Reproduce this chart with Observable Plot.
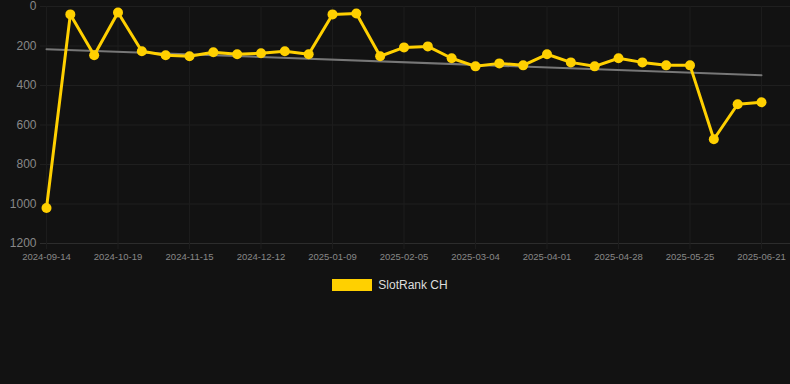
<!DOCTYPE html>
<html>
<head>
<meta charset="utf-8">
<script src="https://cdn.jsdelivr.net/npm/d3@7"></script>
<script src="https://cdn.jsdelivr.net/npm/@observablehq/plot@0.6"></script>
<style>
  html, body { margin: 0; padding: 0; background: #121212; }
  body { width: 790px; height: 384px; overflow: hidden; font-family: "Liberation Sans", Arial, sans-serif; }
  #legend { position: absolute; left: 0; top: 278px; width: 780px; display: flex; justify-content: center; align-items: center; }
  .sw { width: 40px; height: 12px; background: #FFD000; margin-right: 6px; }
  .lt { color: #dddddd; font-size: 12px; }
</style>
</head>
<body>
<div id="chart"></div>
<div id="legend"><div class="sw"></div><div class="lt">SlotRank CH</div></div>
<script>
const dates = [
  "2024-09-14","2024-09-26","2024-10-07","2024-10-19","2024-10-28","2024-11-06",
  "2024-11-15","2024-11-24","2024-12-03","2024-12-12","2024-12-21","2024-12-31",
  "2025-01-09","2025-01-18","2025-01-27","2025-02-05","2025-02-14","2025-02-23",
  "2025-03-04","2025-03-13","2025-03-22","2025-04-01","2025-04-10","2025-04-19",
  "2025-04-28","2025-05-07","2025-05-16","2025-05-25","2025-06-03","2025-06-12",
  "2025-06-21"
];
const ranks = [
  1020, 40, 247, 30, 227, 247,
  252, 232, 242, 237, 227, 242,
  40, 35, 252, 207, 202, 262,
  303, 288, 298, 242, 283, 303,
  262, 283, 298, 298, 672, 495,
  485
];
const yTicks = [0, 200, 400, 600, 800, 1000, 1200];
const xTickIdx = [0, 3, 6, 9, 12, 15, 18, 21, 24, 27, 30];

const data = ranks.map((v, i) => ({i, date: dates[i], rank: v}));

const chart = Plot.plot({
  width: 790,
  height: 270,
  marginLeft: 40,
  marginRight: 0,
  marginTop: 6,
  marginBottom: 27,
  style: {background: "#121212", color: "#888888", fontFamily: "Liberation Sans, Arial, sans-serif"},
  x: {type: "linear", domain: [0, 30], label: null, insetLeft: 6, insetRight: 29},
  y: {domain: [0, 1200], reverse: true, label: null},
  marks: [
    Plot.gridY(yTicks, {stroke: "#1f1f1f", strokeOpacity: 1}),
    Plot.gridX(xTickIdx, {stroke: "#1c1c1c", strokeOpacity: 1}),
    Plot.ruleY([1200], {stroke: "#2c2c2c"}),
    Plot.axisY(yTicks, {tickSize: 0, tickPadding: 4, fontSize: 12, fill: "#888888", tickFormat: d => String(d), label: null}),
    Plot.axisX(xTickIdx, {tickSize: 6, stroke: "#1c1c1c", tickPadding: 4, fontSize: 9.5, fill: "#888888", tickFormat: i => dates[i], label: null}),
    Plot.linearRegressionY(data, {x: "i", y: "rank", stroke: "#777777", strokeWidth: 2, ci: 0}),
    Plot.line(data, {x: "i", y: "rank", stroke: "#FFD000", strokeWidth: 3}),
    Plot.dot(data, {x: "i", y: "rank", r: 5, fill: "#FFD000"})
  ]
});
document.getElementById("chart").appendChild(chart);
</script>
</body>
</html>
